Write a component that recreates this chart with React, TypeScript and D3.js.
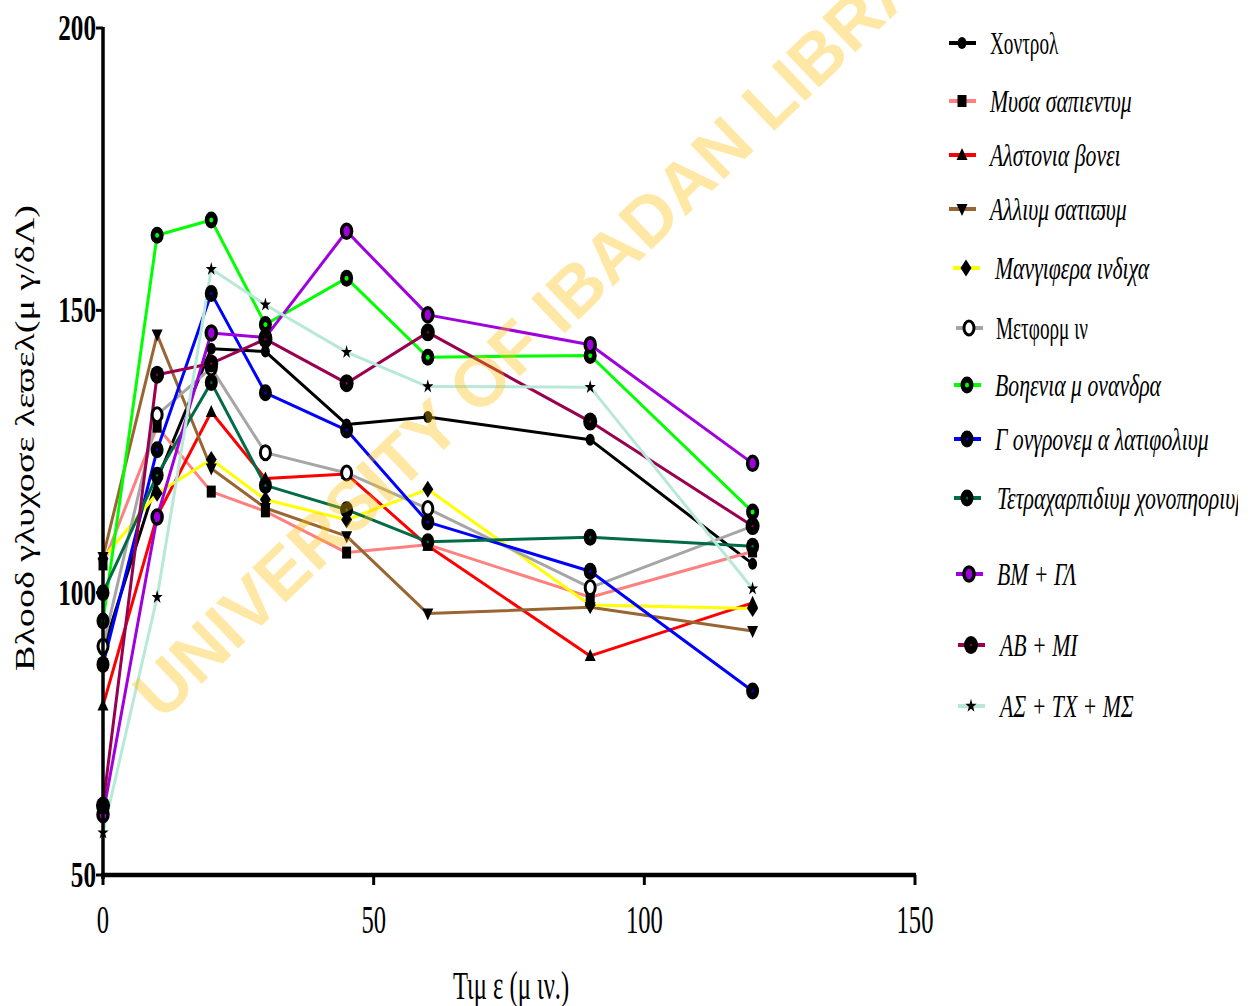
import React from 'react';
import * as d3 from 'd3';

// ---------- data ----------
const timePoints = [0, 10, 20, 30, 45, 60, 90, 120];

const seriesNames = [
  'Χοντρολ',
  'Μυσα σαπιεντυμ',
  'Αλστονια βονει',
  'Αλλιυμ σατιϖυμ',
  'Μανγιφερα ινδιχα',
  'Μετφορμ ιν',
  'Βοηενια μ ονανδρα',
  'Γ ονγρονεμ α λατιφολιυμ',
  'Τετραχαρπιδιυμ χονοπηοριυμ',
  'ΒΜ + ΓΛ',
  'ΑΒ + ΜΙ',
  'ΑΣ + ΤΧ + ΜΣ',
];

const control = [89.8, 120, 143.2, 142.7, 129.8, 131.1, 127.1, 105.1];
const musaSapientum = [105, 129.4, 117.9, 114.4, 107.1, 108.5, 99.2, 107.3];
const alstoniaBoonei = [80, 113.6, 132, 120.2, 121, 108.3, 88.8, 98.2];
const alliumSativum = [106.3, 145.7, 122, 115, 110, 96.3, 97.4, 93.2];
const mangiferaIndica = [106, 117.6, 123.6, 116.5, 112.9, 118.3, 97.8, 97.2];
const metformin = [90.5, 131.5, 139.8, 124.8, 121.2, 114.9, 100.9, 111.8];
const bauhiniaMonandra = [95, 163.3, 166, 147.5, 155.7, 141.7, 142, 114.3];
const gongronemaLatifolium = [87.3, 125.3, 153, 135.4, 128.8, 112.5, 103.8, 82.6];
const tetracarpidium = [100, 120.8, 137.2, 119, 114.7, 109, 109.8, 108.2];
const bmGl = [60.7, 113.4, 146, 145.2, 164, 149.2, 143.9, 122.9];
const abMi = [62.3, 138.6, 140.6, 144.9, 137.1, 146.1, 130.3, 111.8];
const asTcMs = [57.5, 99.2, 157.3, 151, 142.6, 136.5, 136.4, 100.7];

const seriesValues = [
  control, musaSapientum, alstoniaBoonei, alliumSativum, mangiferaIndica, metformin,
  bauhiniaMonandra, gongronemaLatifolium, tetracarpidium, bmGl, abMi, asTcMs,
];

const seriesColors = [
  '#000000', '#FF8080', '#FF0000', '#996633', '#FFFF00', '#A6A6A6',
  '#00FF00', '#0000FF', '#006B45', '#A000DD', '#990050', '#B8E8D8',
];

const seriesMarkers = [
  'dot', 'square', 'triUp', 'triDown', 'diamond', 'ringOpen',
  'ringDot', 'fillDot', 'fillDot', 'ringColor', 'bigDot', 'star',
];

const italicLabel = [false, true, true, true, true, false, true, true, true, true, true, true];

const xTicks = [0, 50, 100, 150];
const yTicks = [50, 100, 150, 200];

const xTitle = 'Τιμ ε (μ ιν.)';
const yTitle = 'Βλοοδ γλυχοσε λεϖελ(μ γ/δΛ)';
const watermark = 'UNIVERSITY OF IBADAN LIBRARY';

// ---------- layout ----------
const W = 1251;
const H = 1006;
const legendRowY = [43, 101, 155, 209, 268, 328, 385, 439, 498, 574, 645, 706];
const legendLineX = [949, 949, 949, 949, 953, 956, 954, 954, 954, 956, 958, 958];
const legendTextX = [990, 990, 990, 990, 995, 996, 995, 995, 997, 997, 1000, 1000];

const xScale = d3.scaleLinear().domain([0, 150]).range([103, 915]);
const yScale = d3.scaleLinear().domain([50, 200]).range([875, 28]);

function Marker({ type, x, y, color }: { type: string; x: number; y: number; color: string }) {
  const t = `translate(${x},${y})`;
  switch (type) {
    case 'dot':
      return <ellipse cx={x} cy={y} rx={4.5} ry={6} fill="#000" />;
    case 'square':
      return <rect x={x - 4.5} y={y - 6} width={9} height={12} fill="#000" />;
    case 'triUp':
      return <path transform={t} d="M0,-7L5.5,5L-5.5,5Z" fill="#000" />;
    case 'triDown':
      return <path transform={t} d="M0,7L5.5,-5L-5.5,-5Z" fill="#000" />;
    case 'diamond':
      return <path transform={t} d="M0,-8.5L5.5,0L0,8.5L-5.5,0Z" fill="#000" />;
    case 'ringOpen':
      return <ellipse cx={x} cy={y} rx={5} ry={7} fill="#fff" stroke="#000" strokeWidth={3} />;
    case 'ringColor':
      return <ellipse cx={x} cy={y} rx={5} ry={7} fill={color} stroke="#000" strokeWidth={3.5} />;
    case 'ringDot':
      return (
        <g>
          <ellipse cx={x} cy={y} rx={6.5} ry={8.5} fill="#000" />
          <ellipse cx={x} cy={y} rx={2} ry={2.5} fill={color} />
        </g>
      );
    case 'fillDot':
      return (
        <g>
          <ellipse cx={x} cy={y} rx={6.5} ry={8.5} fill="#000" />
          <ellipse cx={x} cy={y} rx={1.2} ry={1.5} fill={color} />
        </g>
      );
    case 'bigDot':
      return (
        <g>
          <ellipse cx={x} cy={y} rx={7} ry={9} fill="#000" />
          <ellipse cx={x} cy={y} rx={1} ry={1.2} fill={color} />
        </g>
      );
    case 'star': {
      const d = d3.symbol().type(d3.symbolStar).size(48)() as string;
      return <path transform={`${t} scale(0.9,1.1)`} d={d} fill="#000" />;
    }
    default:
      return null;
  }
}

export default function App() {
  const line = d3
    .line<number>()
    .x((_, i) => xScale(timePoints[i]))
    .y((v) => yScale(v));

  const serif = '"Liberation Serif", "DejaVu Serif", serif';

  return (
    <svg
      width={W}
      height={H}
      viewBox={`0 0 ${W} ${H}`}
      style={{ position: 'absolute', left: 0, top: 0, background: '#fff' }}
    >
      <defs>
        <clipPath id="legendClip">
          <rect x={900} y={0} width={338} height={H} />
        </clipPath>
      </defs>
      <rect x={0} y={0} width={W} height={H} fill="#fff" />

      {/* lines */}
      {seriesValues.map((vals, i) => (
        <path
          key={`l${i}`}
          d={line(vals) as string}
          fill="none"
          stroke={seriesColors[i]}
          strokeWidth={3}
          strokeLinejoin="round"
        />
      ))}
      {/* markers */}
      {seriesValues.map((vals, i) =>
        vals.map((v, j) => (
          <Marker
            key={`m${i}-${j}`}
            type={seriesMarkers[i]}
            x={xScale(timePoints[j])}
            y={yScale(v)}
            color={seriesColors[i]}
          />
        ))
      )}

      {/* y axis */}
      <line x1={xScale(0)} x2={xScale(0)} y1={yScale(200) - 1} y2={yScale(50) + 4} stroke="#000" strokeWidth={3.5} />
      {yTicks.map((t) => (
        <g key={`yt${t}`}>
          <line x1={xScale(0) - 7} x2={xScale(0)} y1={yScale(t)} y2={yScale(t)} stroke="#000" strokeWidth={3} />
          <text
            transform={`translate(${xScale(0) - 7},${yScale(t) + 12}) scale(0.72,1)`}
            textAnchor="end"
            fontFamily={serif}
            fontWeight="bold"
            fontSize={35}
            fill="#000"
          >
            {t}
          </text>
        </g>
      ))}

      {/* x axis */}
      <line x1={xScale(0) - 2} x2={xScale(150) + 1} y1={yScale(50)} y2={yScale(50)} stroke="#000" strokeWidth={4.5} />
      {xTicks.map((t) => (
        <g key={`xt${t}`}>
          <line x1={xScale(t)} x2={xScale(t)} y1={yScale(50)} y2={yScale(50) + 10} stroke="#000" strokeWidth={3} />
          <text
            transform={`translate(${xScale(t)},${933}) scale(0.6,1)`}
            textAnchor="middle"
            fontFamily={serif}
            fontSize={41}
            fill="#000"
          >
            {t}
          </text>
        </g>
      ))}

      {/* axis titles */}
      <text
        transform={`translate(511,999) scale(0.6,1)`}
        textAnchor="middle"
        fontFamily={serif}
        fontSize={41}
        fill="#000"
      >
        {xTitle}
      </text>
      <text
        transform={`translate(34,438) rotate(-90)`}
        textAnchor="middle"
        fontFamily={serif}
        fontSize={28}
        fill="#000"
        textLength={466}
        lengthAdjust="spacingAndGlyphs"
      >
        {yTitle}
      </text>

      {/* legend */}
      <g clipPath="url(#legendClip)">
        {seriesNames.map((name, i) => {
          const y = legendRowY[i];
          const lx = legendLineX[i];
          return (
            <g key={`lg${i}`}>
              <line x1={lx} x2={lx + 27} y1={y} y2={y} stroke={seriesColors[i]} strokeWidth={4} />
              <Marker type={seriesMarkers[i]} x={lx + 13} y={y} color={seriesColors[i]} />
              <text
                transform={`translate(${legendTextX[i]},${y + 11}) scale(${italicLabel[i] ? 0.68 : 0.6},1)`}
                fontFamily={serif}
                fontStyle={italicLabel[i] ? 'italic' : 'normal'}
                fontSize={32}
                fill="#000"
              >
                {name}
              </text>
            </g>
          );
        })}
      </g>

      {/* watermark */}
      <text
        transform="translate(162,722) rotate(-44)"
        fontFamily='"Liberation Sans", Arial, sans-serif'
        fontWeight="bold"
        fontSize={70}
        fill="#FFC000"
        opacity={0.35}
      >
        {watermark}
      </text>
    </svg>
  );
}
